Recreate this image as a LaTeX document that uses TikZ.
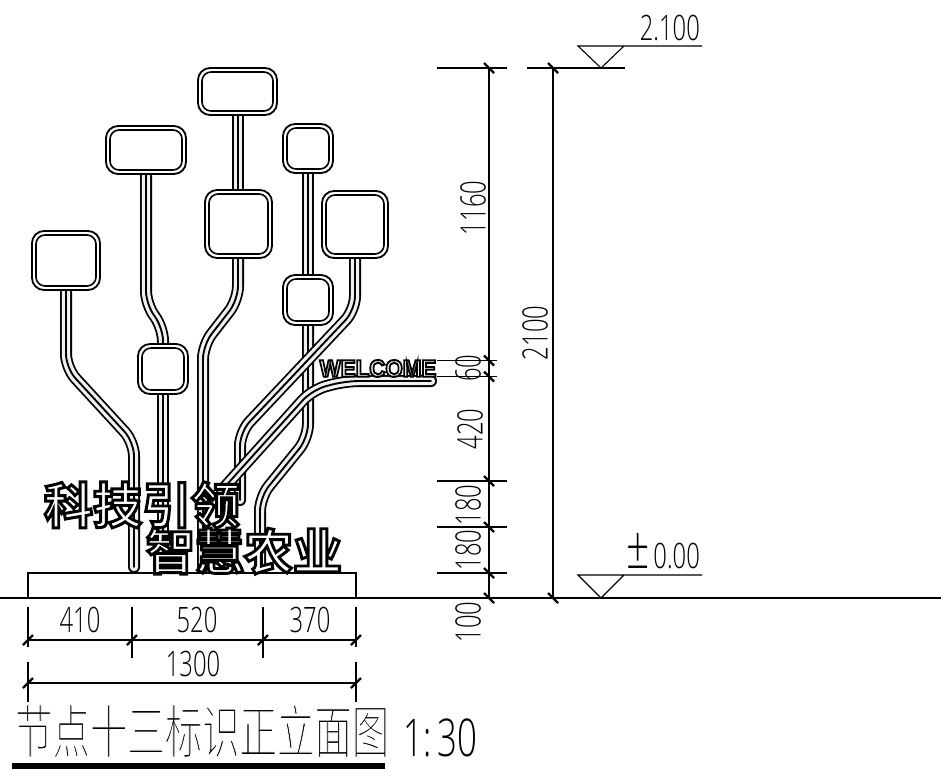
\documentclass[tikz,border=0pt]{standalone}
\usepackage{fontspec}
\setmainfont{Open Sans Light}
\newfontfamily\cjkthin[FakeBold=2]{Noto Sans CJK SC Light}
\newfontfamily\cjk[FakeBold=6]{Noto Sans CJK SC Bold}
\newfontfamily\wel[FakeBold=8]{Liberation Sans Bold}
\newcommand{\hollow}{\special{pdf:code 0 0 0 RG 1 1 1 rg}}
\newcommand{\eroded}{\special{pdf:code 1 1 1 RG 0 0 0 rg}}
\tikzset{
 tick/.style={line width=2.2pt,line cap=butt},
 thinl/.style={line width=1.1pt},
 dimt/.style={inner sep=0,font=\fontsize{35}{35}\selectfont,xscale=.68},
}
\newcommand{\stem}[1]{%
 \draw[line width=12pt,rounded corners=14pt,line cap=round] #1;
 \draw[line width=8.4pt,white!94!black,rounded corners=14pt,line cap=round] #1;
 \draw[line width=1.9pt,rounded corners=14pt,line cap=round] #1;
}
\newcommand{\panel}[4]{%
 \draw[line width=1.8pt,fill=white,rounded corners=12pt] (#1,#2) rectangle (#3,#4);
 \draw[line width=1.6pt,rounded corners=9pt] (#1+4,#2+4) rectangle (#3-4,#4-4);
}
\newcommand{\slashv}[2]{\draw[tick] (#1-5,#2-5)--(#1+5,#2+5);}
\newcommand{\slashh}[2]{\draw[tick] (#1-5,#2+5)--(#1+5,#2-5);}
\begin{document}
\begin{tikzpicture}[x=1pt,y=-1pt]
\useasboundingbox (0,0) rectangle (941,769);
% stems
\stem{(66,290)--(66,368)--(134,442)--(134,567)}
\stem{(146,174)--(146,305)--(163,327)--(163,345)}
\stem{(163,393)--(163,567)}
\stem{(238,115)--(238,191)}
\stem{(238,257)--(238,300)--(203,345)--(203,567)}
\stem{(308,173)--(308,276)}
\stem{(308,325)--(308,438)--(260,497)--(260,567)}
\stem{(355,257)--(355,310)--(240,432)--(240,500)}
\stem{(431,381)--(345,381)--(312,390)--(222,490)}
% panels
\panel{32}{231}{100}{290}
\panel{106}{126}{186}{174}
\panel{138}{344}{188}{394}
\panel{198}{68}{277}{115}
\panel{205}{190}{272}{258}
\panel{283}{124}{333}{173}
\panel{283}{275}{333}{325}
\panel{322}{191}{388}{258}
% welcome
\node[inner sep=0,anchor=center,xscale=.93] (welc) at (378,368.5) {\fontsize{24}{24}\wel\hollow WELCOME};
% slogans
\node[inner sep=0] (s1) at (142,505) {\fontsize{49}{49}\cjk\hollow 科技引领};
\node[inner sep=0] (s2) at (244,551) {\fontsize{49}{49}\cjk\hollow 智慧农业};
% base
\draw[line width=1.3pt] (28,598)--(28,573)--(356,573)--(356,598);
\draw[line width=1.8pt] (0,598)--(941,598);
% bottom dims
\foreach \x in {28,356} \draw[thinl] (\x,607)--(\x,647) (\x,662)--(\x,702);
\draw[thinl] (132,607)--(132,658) (263,607)--(263,658);
\draw[thinl] (28,640)--(356,640) (28,683)--(356,683);
\foreach \x in {28,132,263,356} {\slashh{\x}{640}}
\foreach \x in {28,356} {\slashh{\x}{683}}
\node[dimt] (d1) at (80,620) {410};
\node[dimt] (d2) at (197,620) {520};
\node[dimt] (d3) at (310,620) {370};
\node[dimt] (d4) at (193,663.5) {1300};
% right dims
\draw[thinl] (489,68)--(489,598) (553,68)--(553,598);
\draw[thinl] (437,68)--(507,68) (437,481)--(507,481) (437,527)--(507,527) (437,573)--(507,573);
\draw[thinl] (437,360.5)--(497,360.5) (437,376.5)--(497,376.5);
\draw[thinl] (527,68)--(625,68);
\foreach \y in {68,360.5,376.5,481,527,573,598} {\slashv{489}{\y}}
\foreach \y in {68,598} {\slashv{553}{\y}}
\node[rotate=90,dimt] (v1) at (473,208) {1160};
\node[rotate=90,dimt] (v2) at (535,333) {2100};
\node[rotate=90,dimt] (v3) at (468,368) {60};
\node[rotate=90,dimt] (v4) at (470,429) {420};
\node[rotate=90,dimt] (v5) at (468,505) {180};
\node[rotate=90,dimt] (v6) at (468,550) {180};
\node[rotate=90,dimt] (v7) at (468,622) {100};
% levels
\draw[thinl] (702,46)--(578,46)--(601,68)--(624,46);
\draw[thinl] (702,575)--(578,575)--(601,598)--(624,575);
\node[dimt,anchor=east] (l1) at (700,27.5) {2.100};
\node[dimt,anchor=base east] (l2) at (700,568.5) {{\fontsize{60}{60}\selectfont ±}\hspace{6pt}0.00};
% title
\node[inner sep=0,anchor=west,xscale=.645] (t) at (15,731) {\fontsize{58}{58}\cjkthin\eroded 节点十三标识正立面图};
\node[inner sep=0,anchor=west,xscale=.67] (sc) at (403,738) {\fontsize{52}{52}\selectfont 1:\,30};
\draw[line width=6pt] (12,766)--(385,766);
\end{tikzpicture}
\end{document}
